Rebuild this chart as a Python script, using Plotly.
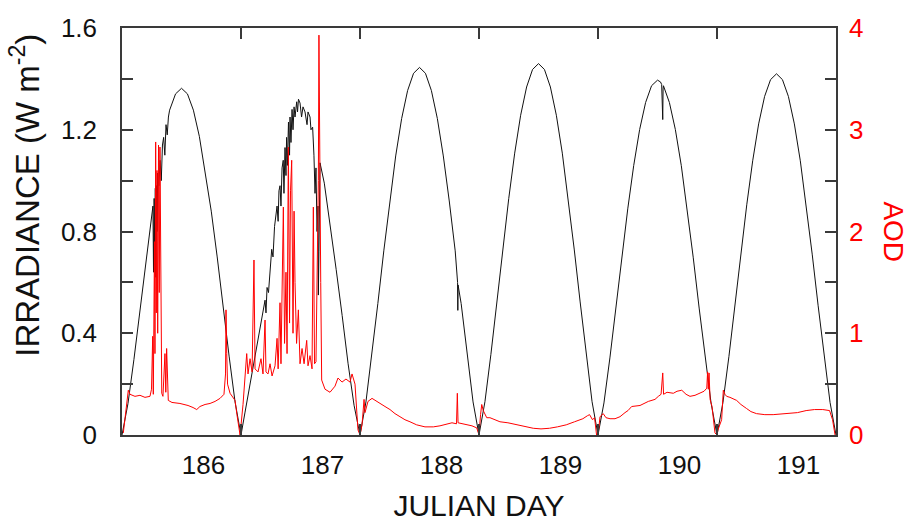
import plotly.graph_objects as go

# ---------------- data ----------------
# Irradiance (W m-2), black curve, per day
irr_t_d1 = [185.315, 185.365, 185.415, 185.465, 185.515, 185.565, 185.575, 185.580, 185.585,
            185.590, 185.595, 185.600, 185.605, 185.610, 185.615, 185.625, 185.635, 185.645,
            185.655, 185.665, 185.675, 185.685, 185.695, 185.705, 185.715, 185.765, 185.815,
            185.865, 185.915, 185.965, 186.015, 186.065, 186.115, 186.165, 186.215, 186.265]
irr_v_d1 = [0.0, 0.123, 0.296, 0.488, 0.683, 0.868, 0.90, 0.64, 0.93,
            0.72, 0.97, 0.62, 0.98, 0.80, 1.03, 0.98, 1.08, 1.00,
            1.14, 1.17, 1.10, 1.22, 1.18, 1.25, 1.277, 1.341, 1.363,
            1.341, 1.277, 1.174, 1.035, 0.880, 0.700, 0.500, 0.310, 0.130]

irr_t_d2 = [186.315, 186.349, 186.391, 186.433, 186.475, 186.500, 186.517, 186.525, 186.534,
            186.546, 186.559, 186.573, 186.584, 186.597, 186.618, 186.627, 186.634, 186.643,
            186.651, 186.660, 186.670, 186.676, 186.685, 186.693, 186.698, 186.705, 186.714,
            186.723, 186.727, 186.735, 186.744, 186.752, 186.761, 186.769, 186.783, 186.790,
            186.798, 186.811, 186.824, 186.836, 186.853, 186.870, 186.878, 186.895, 186.903,
            186.917, 186.928, 186.937, 186.945, 186.954, 186.962, 186.965, 186.970, 186.979,
            187.015, 187.065, 187.115, 187.165, 187.215, 187.265]
irr_v_d2 = [0.0, 0.09, 0.20, 0.31, 0.41, 0.47, 0.53, 0.48, 0.58,
            0.56, 0.66, 0.73, 0.70, 0.82, 0.90, 0.84, 0.96, 0.98,
            0.90, 1.05, 1.08, 0.95, 1.13, 1.02, 1.17, 1.06, 1.23,
            1.10, 1.25, 1.15, 1.28, 1.20, 1.29, 1.25, 1.31, 1.27,
            1.32, 1.305, 1.25, 1.29, 1.27, 1.22, 1.27, 1.25, 1.20,
            1.21, 1.10, 0.95, 1.05, 0.80, 0.90, 0.55, 0.72, 1.07,
            0.99, 0.83, 0.65, 0.47, 0.28, 0.117]

irr_t_d3 = [187.315, 187.365, 187.415, 187.465, 187.515, 187.565, 187.615, 187.665, 187.715,
            187.765, 187.815, 187.865, 187.915, 187.965, 188.015, 188.065, 188.115, 188.135,
            188.137, 188.139, 188.165, 188.215, 188.265]
irr_v_d3 = [0.0, 0.130, 0.314, 0.517, 0.724, 0.920, 1.097, 1.244, 1.354,
            1.422, 1.445, 1.422, 1.354, 1.244, 1.097, 0.920, 0.724, 0.600,
            0.490, 0.590, 0.517, 0.314, 0.130]

irr_t_d4 = [188.315, 188.365, 188.415, 188.465, 188.515, 188.565, 188.615, 188.665, 188.715,
            188.765, 188.815, 188.865, 188.915, 188.965, 189.015, 189.065, 189.115, 189.165,
            189.215, 189.265]
irr_v_d4 = [0.0, 0.131, 0.317, 0.523, 0.731, 0.930, 1.108, 1.257, 1.368,
            1.437, 1.460, 1.437, 1.368, 1.257, 1.108, 0.930, 0.731, 0.523,
            0.317, 0.131]

irr_t_d5 = [189.315, 189.365, 189.415, 189.465, 189.515, 189.565, 189.615, 189.665, 189.715,
            189.765, 189.815, 189.840, 189.850, 189.853, 189.856, 189.859, 189.862, 189.865,
            189.915, 189.965, 190.015, 190.065, 190.115, 190.165, 190.215, 190.265]
irr_v_d5 = [0.0, 0.126, 0.303, 0.499, 0.699, 0.889, 1.059, 1.201, 1.307,
            1.373, 1.395, 1.388, 1.378, 1.300, 1.370, 1.240, 1.360, 1.373,
            1.307, 1.201, 1.059, 0.889, 0.699, 0.499, 0.303, 0.126]

irr_t_d6 = [190.315, 190.365, 190.415, 190.465, 190.515, 190.565, 190.615, 190.665, 190.715,
            190.765, 190.815, 190.865, 190.915, 190.965, 191.015, 191.065, 191.115, 191.165,
            191.215, 191.265, 191.315]
irr_v_d6 = [0.0, 0.128, 0.308, 0.508, 0.711, 0.905, 1.078, 1.223, 1.331,
            1.397, 1.420, 1.397, 1.331, 1.223, 1.078, 0.905, 0.711, 0.508,
            0.308, 0.128, 0.0]

# Aerosol optical depth, red curve
aod_t_d1 = [185.326, 185.368, 185.382, 185.424, 185.466, 185.508, 185.550, 185.563, 185.573,
            185.578, 185.588, 185.592, 185.598, 185.603, 185.609, 185.615, 185.622, 185.628,
            185.634, 185.641, 185.649, 185.659, 185.676, 185.683, 185.690, 185.704, 185.735,
            185.802, 185.870, 185.912, 185.943, 185.970, 186.013, 186.055, 186.097, 186.139,
            186.172, 186.185, 186.189, 186.195, 186.202, 186.223, 186.248, 186.265, 186.281]
aod_v_d1 = [0.02, 0.44, 0.40, 0.38, 0.39, 0.37, 0.38, 0.45, 0.97,
            0.40, 1.90, 0.80, 2.88, 1.20, 2.60, 1.00, 2.85, 1.40,
            2.83, 0.90, 0.41, 0.38, 0.80, 0.42, 0.85, 0.34, 0.32,
            0.31, 0.29, 0.27, 0.25, 0.28, 0.30, 0.31, 0.33, 0.36,
            0.40, 0.60, 1.23, 0.80, 0.50, 0.41, 0.36, 0.34, 0.20]

aod_t_d2 = [186.307, 186.332, 186.363, 186.374, 186.391, 186.408, 186.424, 186.433, 186.458,
            186.483, 186.500, 186.517, 186.525, 186.542, 186.559, 186.576, 186.601, 186.618,
            186.627, 186.643, 186.651, 186.671, 186.681, 186.693, 186.702, 186.713, 186.723,
            186.731, 186.741, 186.752, 186.761, 186.769, 186.782, 186.797, 186.811, 186.828,
            186.845, 186.867, 186.878, 186.895, 186.912, 186.923, 186.933, 186.945, 186.958,
            186.965, 186.970, 186.975, 186.979, 186.985, 186.993, 187.021, 187.063, 187.105,
            187.130, 187.164, 187.197, 187.231, 187.248, 187.273, 187.298]
aod_v_d2 = [0.0, 0.30, 0.80, 0.60, 0.75, 0.62, 1.72, 0.65, 0.62,
            0.75, 0.60, 1.13, 0.62, 0.60, 0.70, 0.58, 0.68, 0.95,
            0.65, 1.30, 0.70, 2.24, 0.90, 1.60, 0.80, 2.83, 1.10,
            2.40, 2.70, 1.00, 2.20, 1.50, 0.90, 1.23, 0.70, 0.85,
            0.70, 0.93, 0.68, 0.78, 0.65, 2.24, 0.70, 0.72, 1.90,
            2.50, 3.93, 2.70, 3.03, 1.50, 0.54, 0.45, 0.42, 0.48,
            0.56, 0.52, 0.55, 0.52, 0.60, 0.50, 0.05]

aod_t_d3 = [187.315, 187.332, 187.349, 187.357, 187.371, 187.382, 187.416, 187.441, 187.483,
            187.525, 187.567, 187.609, 187.651, 187.693, 187.735, 187.791, 187.861, 187.931,
            187.987, 188.044, 188.088, 188.126, 188.133, 188.139, 188.172, 188.212, 188.256,
            188.296, 188.309]
aod_v_d3 = [0.0, 0.10, 0.35, 0.22, 0.28, 0.33, 0.36, 0.34, 0.31,
            0.28, 0.25, 0.21, 0.18, 0.15, 0.13, 0.10, 0.08, 0.08,
            0.09, 0.11, 0.12, 0.11, 0.41, 0.12, 0.11, 0.10, 0.09,
            0.07, 0.0]

aod_t_d4 = [188.315, 188.328, 188.338, 188.351, 188.380, 188.407, 188.449, 188.491, 188.558,
            188.632, 188.701, 188.771, 188.836, 188.907, 188.974, 189.048, 189.118, 189.188,
            189.227, 189.244, 189.269, 189.286, 189.303]
aod_v_d4 = [0.0, 0.20, 0.30, 0.24, 0.17, 0.17, 0.15, 0.13, 0.12,
            0.10, 0.08, 0.066, 0.06, 0.066, 0.08, 0.10, 0.13, 0.16,
            0.19, 0.20, 0.15, 0.17, 0.0]

aod_t_d5 = [189.315, 189.332, 189.359, 189.382, 189.416, 189.458, 189.500, 189.542, 189.567,
            189.598, 189.668, 189.738, 189.794, 189.822, 189.845, 189.859, 189.866, 189.895,
            189.948, 189.979, 190.019, 190.055, 190.088, 190.130, 190.173, 190.206, 190.229,
            190.236, 190.242, 190.248, 190.257, 190.273, 190.298, 190.315]
aod_v_d5 = [0.0, 0.18, 0.21, 0.17, 0.16, 0.16, 0.18, 0.22, 0.24,
            0.28, 0.29, 0.33, 0.35, 0.38, 0.40, 0.61, 0.40, 0.42,
            0.41, 0.43, 0.44, 0.40, 0.38, 0.39, 0.41, 0.43, 0.46,
            0.62, 0.45, 0.61, 0.35, 0.28, 0.02, 0.0]

aod_t_d6 = [190.323, 190.354, 190.368, 190.382, 190.396, 190.424, 190.480, 190.516, 190.564,
            190.600, 190.647, 190.717, 190.787, 190.852, 190.924, 190.991, 191.064, 191.134,
            191.204, 191.261, 191.286, 191.307]
aod_v_d6 = [0.05, 0.15, 0.44, 0.40, 0.38, 0.37, 0.34, 0.30, 0.26,
            0.23, 0.21, 0.20, 0.20, 0.205, 0.21, 0.22, 0.24, 0.25,
            0.25, 0.24, 0.15, 0.0]

day_labels = ["186", "187", "188", "189", "190", "191"]
day_label_pos = [186, 187, 188, 189, 190, 191]
day_boundaries = [186.315, 187.315, 188.315, 189.315, 190.315]
irr_ticks = [0, 0.4, 0.8, 1.2, 1.6]
irr_ticktext = ["0", "0.4", "0.8", "1.2", "1.6"]
irr_minor_ticks = [0.2, 0.6, 1.0, 1.4]
aod_ticks = [0, 1, 2, 3, 4]
aod_ticktext = ["0", "1", "2", "3", "4"]
aod_minor_ticks = [0.5, 1.5, 2.5, 3.5]

# ---------------- figure ----------------
irr_t = irr_t_d1 + irr_t_d2 + irr_t_d3 + irr_t_d4 + irr_t_d5 + irr_t_d6
irr_v = irr_v_d1 + irr_v_d2 + irr_v_d3 + irr_v_d4 + irr_v_d5 + irr_v_d6
aod_t = aod_t_d1 + aod_t_d2 + aod_t_d3 + aod_t_d4 + aod_t_d5 + aod_t_d6
aod_v = aod_v_d1 + aod_v_d2 + aod_v_d3 + aod_v_d4 + aod_v_d5 + aod_v_d6

FONT = "Liberation Sans, Arial, sans-serif"
FRAME = "#3a3a3a"

fig = go.Figure()
fig.add_trace(go.Scatter(x=irr_t, y=irr_v, mode="lines", yaxis="y",
                         line=dict(color="#111111", width=1), showlegend=False))
fig.add_trace(go.Scatter(x=aod_t, y=aod_v, mode="lines", yaxis="y2",
                         line=dict(color="#ff0000", width=1), showlegend=False))

TICKSTYLE = dict(ticks="inside", ticklen=11, tickcolor=FRAME, tickwidth=1.5)

fig.update_layout(
    width=913, height=528,
    margin=dict(l=122, r=77, t=28, b=93, autoexpand=False),
    paper_bgcolor="white", plot_bgcolor="white",
    font=dict(family=FONT, color="#111111"),
    xaxis=dict(
        range=[185.315, 191.315], automargin=False,
        tickmode="array", tickvals=day_label_pos, ticktext=day_labels, ticks="",
        tickfont=dict(size=26), ticklabelstandoff=6,
        showline=True, linecolor=FRAME, linewidth=1.5, mirror="allticks",
        showgrid=False, zeroline=False,
        minor=dict(tickmode="array", tickvals=day_boundaries, showgrid=False, **TICKSTYLE),
        title=dict(text="JULIAN DAY", font=dict(size=30), standoff=16),
    ),
    yaxis=dict(
        range=[0, 1.6], automargin=False,
        tickmode="array", tickvals=irr_ticks, ticktext=irr_ticktext, **TICKSTYLE,
        tickfont=dict(size=26), ticklabelstandoff=18,
        minor=dict(tickmode="array", tickvals=irr_minor_ticks, showgrid=False, **TICKSTYLE),
        showline=True, linecolor=FRAME, linewidth=1.5,
        showgrid=False, zeroline=False,
    ),
    yaxis2=dict(
        range=[0, 4], overlaying="y", side="right", automargin=False,
        tickmode="array", tickvals=aod_ticks, ticktext=aod_ticktext, **TICKSTYLE,
        tickfont=dict(size=26, color="#ff0000"), ticklabelstandoff=6,
        minor=dict(tickmode="array", tickvals=aod_minor_ticks, showgrid=False, **TICKSTYLE),
        showline=True, linecolor=FRAME, linewidth=1.5,
        showgrid=False, zeroline=False,
    ),
    annotations=[
        dict(text="IRRADIANCE (W m<sup>-2</sup>)", textangle=-90,
             x=-0.136, y=0.59, xref="paper", yref="paper", xanchor="center", yanchor="middle",
             showarrow=False, font=dict(size=33, color="#111111", family=FONT)),
        dict(text="AOD", textangle=90, x=1.08, y=0.5, xref="paper", yref="paper",
             xanchor="center", yanchor="middle",
             showarrow=False, font=dict(size=28, color="#ff0000", family=FONT)),
    ],
)

fig.write_html("out.html")
